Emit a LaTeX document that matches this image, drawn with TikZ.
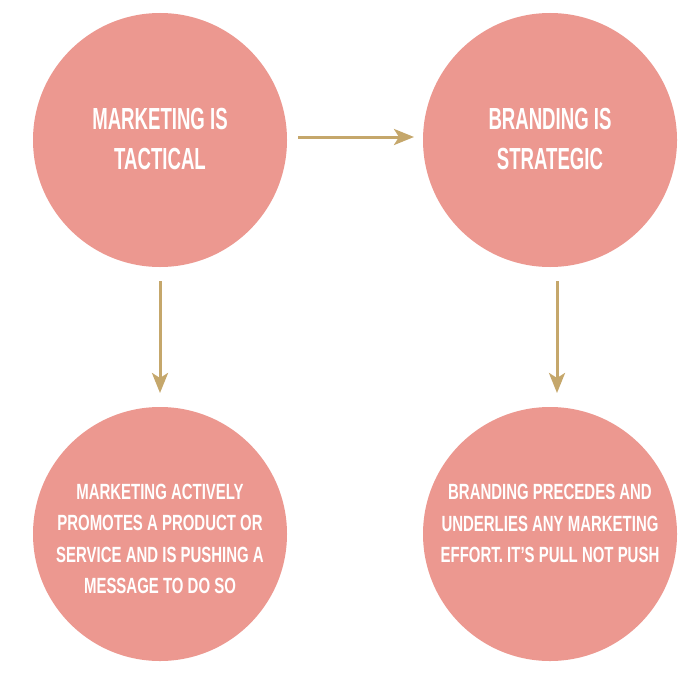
\documentclass[tikz,border=0pt]{standalone}
\usepackage{fontspec}
\newfontfamily\bebasA[FakeStretch=0.61]{Liberation Sans}
\newfontfamily\bebasB[FakeStretch=0.68]{Liberation Sans}
\usetikzlibrary{arrows.meta}
\definecolor{pinkc}{HTML}{EC9890}
\definecolor{goldc}{HTML}{C5A76B}
\tikzset{
  bubble/.style={circle, fill=pinkc, draw=none, minimum size=254pt, inner sep=0pt},
  bigtxt/.style={text=white, align=center, font=\bebasA\bfseries\fontsize{30.5}{40}\selectfont},
  smalltxt/.style={text=white, align=center, font=\bebasB\bfseries\fontsize{22}{31.3}\selectfont},
  conn/.style={draw=goldc, line width=3pt, -{Stealth[length=20pt,width=16pt,inset=5pt]}}
}
\begin{document}
\begin{tikzpicture}[x=1pt,y=-1pt]
\useasboundingbox (0,0) rectangle (700,682);
\fill[white] (0,0) rectangle (700,682);
\node[bubble] (tl) at (160,140) {};
\node[bubble] (tr) at (550,140) {};
\node[bubble] (bl) at (160,534) {};
\node[bubble] (br) at (550,534) {};
\node[bigtxt] (tlt) at (160,139) {MARKETING IS\\TACTICAL};
\node[bigtxt] (trt) at (550,139) {BRANDING IS\\STRATEGIC};
\node[smalltxt] (blt) at (160,539) {MARKETING ACTIVELY\\PROMOTES A PRODUCT OR\\SERVICE AND IS PUSHING A\\MESSAGE TO DO SO};
\node[smalltxt] (brt) at (550,523.5) {BRANDING PRECEDES AND\\UNDERLIES ANY MARKETING\\EFFORT. IT’S PULL NOT PUSH};
\coordinate (h1) at (298,137);
\coordinate (h2) at (414,137);
\coordinate (v1) at (160,281);
\coordinate (v2) at (160,393);
\coordinate (w1) at (557,281);
\coordinate (w2) at (557,393);
\draw[conn] (h1) -- (h2);
\draw[conn] (v1) -- (v2);
\draw[conn] (w1) -- (w2);
\end{tikzpicture}
\end{document}
